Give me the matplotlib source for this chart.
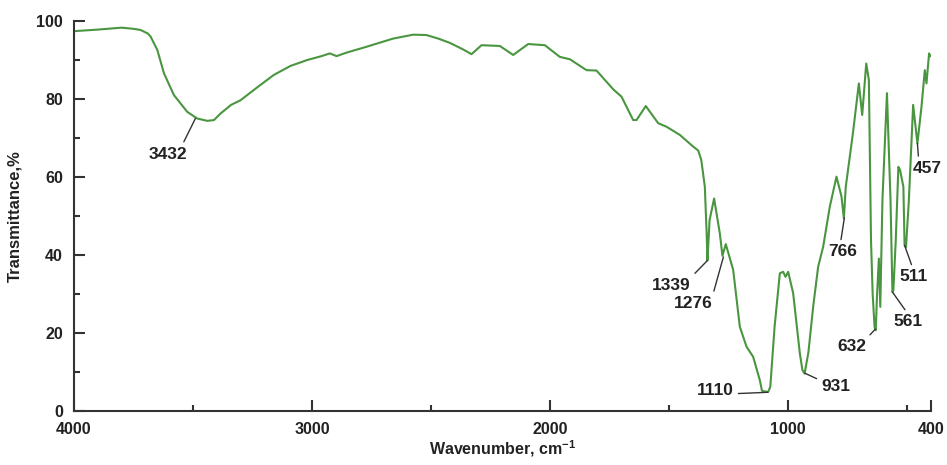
import numpy as np
import matplotlib
matplotlib.use("Agg")
import matplotlib.pyplot as plt
from matplotlib.ticker import MultipleLocator, FixedLocator

plt.rcParams['font.family'] = ['Liberation Sans Narrow', 'DejaVu Sans Condensed', 'Liberation Sans', 'DejaVu Sans']
plt.rcParams['font.weight'] = 'bold'
plt.rcParams['mathtext.fontset'] = 'custom'
plt.rcParams['mathtext.bf'] = 'Liberation Sans:bold'
plt.rcParams['mathtext.rm'] = 'Liberation Sans'

# IR spectrum, wavenumber (cm-1) and transmittance (%)
wavenumber = [4000, 3900, 3800, 3750, 3720, 3690, 3678, 3650, 3622, 3580,
              3524, 3482, 3440, 3412, 3384, 3340, 3300, 3230, 3160, 3090,
              3020, 2960, 2925, 2897, 2855, 2771, 2659, 2575, 2519, 2470,
              2421, 2365, 2330, 2288, 2211, 2155, 2092, 2022, 1959, 1917,
              1847, 1805, 1735, 1700, 1651, 1637, 1598, 1546, 1511, 1455,
              1399, 1378, 1365, 1350, 1342, 1339, 1330, 1311, 1287, 1276,
              1262, 1231, 1203, 1175, 1147, 1119, 1110, 1098, 1084, 1075,
              1057, 1035, 1021, 1011, 1000, 979, 951, 940, 931, 915,
              895, 874, 853, 825, 797, 776, 766, 758, 728, 703,
              689, 672, 661, 652, 645, 637, 632, 627, 619, 613,
              604, 585, 578, 570, 562, 558, 548, 537, 530, 516,
              511, 505, 493, 475, 457, 440, 426, 419, 408, 403]
transmittance = [97.4, 97.8, 98.3, 98.0, 97.7, 96.8, 96.0, 92.6, 86.6, 81.0,
                 76.7, 75.0, 74.4, 74.6, 76.3, 78.5, 79.7, 83.0, 86.2, 88.5,
                 90.0, 91.0, 91.7, 91.0, 91.9, 93.4, 95.5, 96.5, 96.4, 95.5,
                 94.4, 92.7, 91.5, 93.8, 93.6, 91.3, 94.1, 93.8, 90.8, 90.2,
                 87.4, 87.3, 82.5, 80.6, 74.6, 74.6, 78.2, 73.8, 72.9, 70.8,
                 67.8, 66.8, 64.4, 57.5, 45.0, 38.6, 49.0, 54.5, 45.5, 39.8,
                 42.8, 36.2, 21.6, 16.5, 13.9, 7.9, 5.2, 5.0, 4.9, 6.2,
                 21.6, 35.3, 35.7, 34.4, 35.7, 30.2, 14.8, 10.5, 9.6, 15.0,
                 26.7, 37.0, 42.1, 52.4, 60.1, 55.0, 49.4, 57.5, 71.2, 84.0,
                 75.9, 89.1, 84.9, 43.8, 30.0, 21.5, 20.7, 29.3, 39.1, 26.7,
                 54.0, 81.5, 68.7, 54.0, 30.5, 31.0, 43.8, 62.6, 61.8, 57.5,
                 42.5, 42.0, 54.0, 78.5, 68.6, 78.0, 87.4, 84.0, 91.7, 91.0]

# labelled bands: label, band point, text centre, where the leader leaves the text
peak_labels = ['3432', '1339', '1276', '1110', '931', '766', '632', '561', '511', '457']
peak_x = [3490, 1339, 1272, 1085, 930, 764, 634, 562, 511, 457]
peak_y = [75.0, 38.6, 39.5, 4.8, 9.7, 49.5, 21.0, 30.5, 42.5, 68.6]
text_x = [3605, 1490, 1399, 1307, 800, 769, 734, 496, 475, 415]
text_y = [65.9, 32.3, 27.6, 5.2, 6.2, 40.8, 16.5, 22.9, 34.4, 62.2]
rel_pos = [(0.85, 1), (1, 1), (1, 1), (1, 0.3), (0, 0.9), (0.4, 1), (1, 1), (0.5, 1), (0.5, 1), (0.2, 1)]

fig = plt.figure(figsize=(9.47, 4.65), dpi=100)
ax = fig.add_axes([0.0781, 0.1161, 0.905, 0.8387])

ax.plot(wavenumber, transmittance, color='#4a9640', lw=1.5, solid_joinstyle='round')

for lab, px, py, tx, ty, rp in zip(peak_labels, peak_x, peak_y, text_x, text_y, rel_pos):
    ax.annotate(lab, xy=(px, py), xytext=(tx, ty), ha='center', va='center',
                fontsize=12.5, color='#222222', fontweight='bold',
                arrowprops=dict(arrowstyle='-', color='#333333', lw=1.0,
                                shrinkA=1.5, shrinkB=0, relpos=rp))

ax.set_xlim(4000, 400)
ax.set_ylim(0, 100)
ax.xaxis.set_major_locator(FixedLocator([4000, 3000, 2000, 1000, 400]))
ax.xaxis.set_minor_locator(FixedLocator([3500, 2500, 1500, 500]))
ax.yaxis.set_major_locator(MultipleLocator(20))
ax.yaxis.set_minor_locator(MultipleLocator(10))

for side in ['top', 'right']:
    ax.spines[side].set_visible(False)
for side in ['left', 'bottom']:
    ax.spines[side].set_color('#333333')
    ax.spines[side].set_linewidth(1.5)

ax.tick_params(which='major', direction='in', length=8, width=1.5, color='#333333',
               labelsize=11.5, labelcolor='#222222')
ax.tick_params(which='minor', direction='in', length=4, width=1.5, color='#333333')
ax.tick_params(axis='x', pad=8)
ax.tick_params(axis='y', pad=8)

ax.set_xlabel(r'Wavenumber, cm$^{\mathbf{-1}}$', fontsize=11.5, fontweight='bold',
              color='#222222', labelpad=1)
ax.set_ylabel('Transmittance,%', fontsize=12, fontweight='bold', color='#222222',
              labelpad=10)

fig.savefig('out.png', dpi=100)
